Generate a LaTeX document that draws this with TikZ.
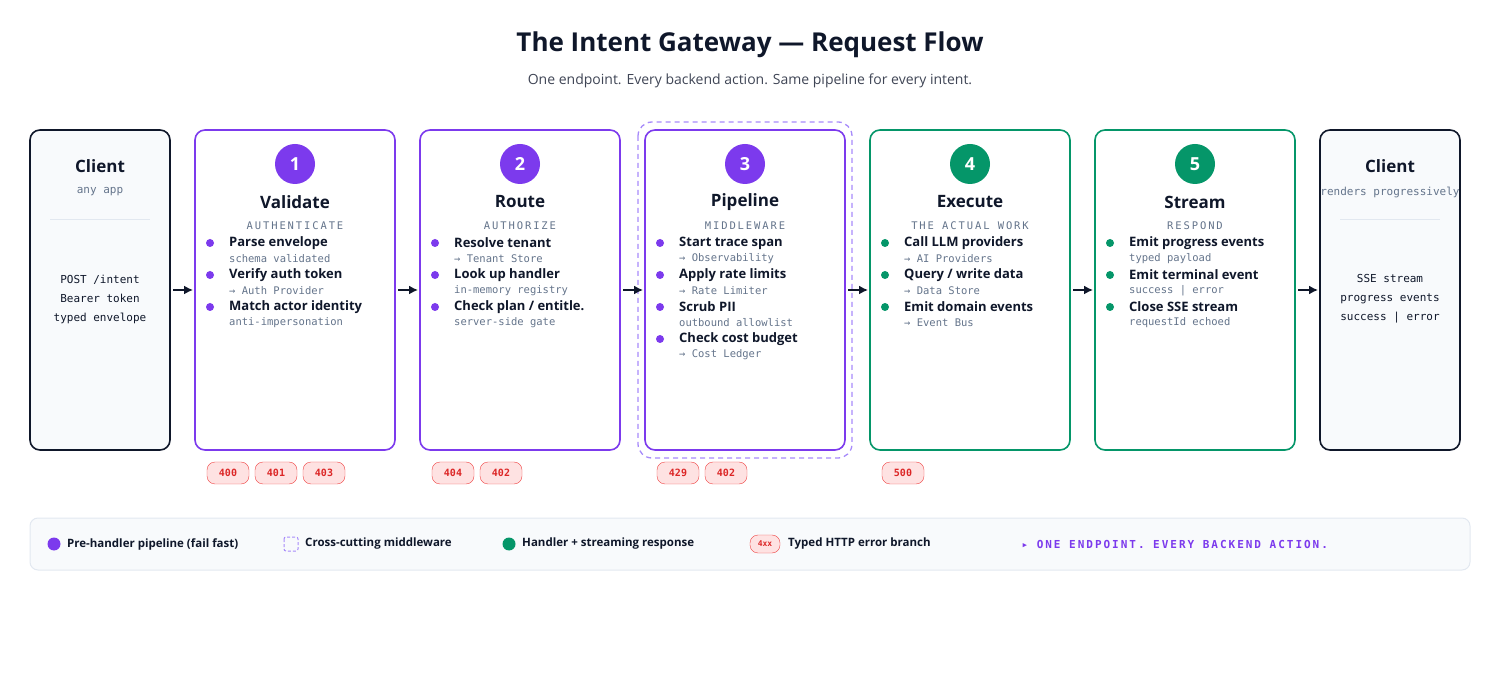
\documentclass[tikz,border=0pt]{standalone}
\usepackage{fontspec}
\setmainfont{Liberation Sans}
\newfontfamily\hd{Open Sans}
\newfontfamily\mn{DejaVu Sans Mono}
\newfontfamily\capmn[LetterSpace=18]{DejaVu Sans Mono}
\definecolor{pur}{HTML}{7C3AED}
\definecolor{grn}{HTML}{059669}
\definecolor{ink}{HTML}{0F172A}
\definecolor{gry}{HTML}{64748B}
\definecolor{cfill}{HTML}{F8FAFC}
\definecolor{rfill}{HTML}{FEE2E2}
\definecolor{rline}{HTML}{EF4444}
\definecolor{rtext}{HTML}{DC2626}
\definecolor{lav}{HTML}{A78BFA}
\definecolor{sep}{HTML}{E2E8F0}
\usetikzlibrary{arrows.meta}
\tikzset{
 stagebox/.style={draw=#1,line width=1.6pt,rounded corners=10pt,fill=white},
 clientbox/.style={draw=ink,line width=1.6pt,rounded corners=10pt,fill=cfill},
 num/.style={circle,fill=#1,minimum size=40pt,inner sep=0,text=white,font=\hd\bfseries\fontsize{18}{18}\selectfont},
 ttl/.style={text=ink,font=\hd\bfseries\fontsize{17}{17}\selectfont},
 capt/.style={text=gry,font=\capmn\fontsize{10.5}{11}\selectfont},
 itm/.style={anchor=west,text=ink,inner sep=0,font=\hd\bfseries\fontsize{13}{13}\selectfont},
 sub/.style={anchor=west,text=gry,inner sep=0,font=\mn\fontsize{10.5}{11}\selectfont},
 dot/.style={circle,fill=#1,minimum size=8pt,inner sep=0},
 flow/.style={-{Latex[length=9pt,width=9pt]},line width=1.6pt,draw=ink},
 badge/.style={draw=rline,fill=rfill,rounded corners=8pt,minimum width=42pt,minimum height=22pt,inner sep=0,text=rtext,font=\mn\bfseries\fontsize{10}{10}\selectfont},
 mono/.style={text=ink,font=\mn\fontsize{11}{19}\selectfont,align=center},
 legt/.style={anchor=west,text=ink,inner sep=0,font=\hd\bfseries\fontsize{11.5}{12}\selectfont},
}
\newcommand{\itmrow}[6]{% x y color name bold sub
 \node[dot=#3] at (#1+15,#2) {};
 \node[itm] (#4) at (#1+34,#2) {#5};
 \node[sub] (#4s) at (#1+34,#2+16) {#6};}
\begin{document}
\begin{tikzpicture}[x=1pt,y=-1pt]
\useasboundingbox (0,0) rectangle (1500,700);
\node[text=ink,font=\hd\bfseries\fontsize{26}{26}\selectfont] (title) at (750,45) {The Intent Gateway — Request Flow};
\node[text=ink!80,font=\hd\fontsize{14}{14}\selectfont] (subt) at (750,81) {One endpoint. Every backend action. Same pipeline for every intent.};
\draw[lav,line width=1.3pt,dash pattern=on 5pt off 4pt,rounded corners=14pt] (638,122) rectangle (852,458);
\draw[clientbox] (30,130) rectangle (170,450);
\draw[stagebox=pur] (195,130) rectangle (395,450);
\draw[stagebox=pur] (420,130) rectangle (620,450);
\draw[stagebox=pur] (645,130) rectangle (845,450);
\draw[stagebox=grn] (870,130) rectangle (1070,450);
\draw[stagebox=grn] (1095,130) rectangle (1295,450);
\draw[clientbox] (1320,130) rectangle (1460,450);
\coordinate (c1) at (170,290); \coordinate (b1l) at (195,290); \coordinate (b1r) at (395,290);
\coordinate (b2l) at (420,290); \coordinate (b2r) at (620,290);
\coordinate (b3l) at (645,290); \coordinate (b3r) at (845,290);
\coordinate (b4l) at (870,290); \coordinate (b4r) at (1070,290);
\coordinate (b5l) at (1095,290); \coordinate (b5r) at (1295,290);
\coordinate (c2) at (1320,290);
\draw[flow] ([xshift=3pt]c1) -- ([xshift=-2pt]b1l);
\draw[flow] ([xshift=3pt]b1r) -- ([xshift=-2pt]b2l);
\draw[flow] ([xshift=3pt]b2r) -- ([xshift=-2pt]b3l);
\draw[flow] ([xshift=3pt]b3r) -- ([xshift=-2pt]b4l);
\draw[flow] ([xshift=3pt]b4r) -- ([xshift=-2pt]b5l);
\draw[flow] ([xshift=3pt]b5r) -- ([xshift=-2pt]c2);
\node[ttl] (cl1) at (100,166) {Client};
\node[text=gry,font=\mn\fontsize{11}{11}\selectfont] (cl1s) at (100,192) {any app};
\draw[sep,line width=1pt] (50,220) -- (150,220);
\node[mono] (cl1b) at (100,299) {POST /intent\\Bearer token\\typed envelope};
\node[ttl] (cl2) at (1390,166) {Client};
\node[text=gry,font=\mn\fontsize{11}{11}\selectfont] (cl2s) at (1390,192) {renders progressively};
\draw[sep,line width=1pt] (1340,220) -- (1440,220);
\node[mono] (cl2b) at (1390,299) {SSE stream\\progress events\\success | error};
\node[num=pur] (n1) at (295,164) {1};
\node[ttl] (t1) at (295,202) {Validate};
\node[capt] (k1) at (295,226) {AUTHENTICATE};
\itmrow{195}{243}{pur}{a1}{Parse envelope}{schema validated}
\itmrow{195}{275}{pur}{a2}{Verify auth token}{→ Auth Provider}
\itmrow{195}{307}{pur}{a3}{Match actor identity}{anti-impersonation}
\node[num=pur] (n2) at (520,164) {2};
\node[ttl] (t2) at (520,202) {Route};
\node[capt] (k2) at (520,226) {AUTHORIZE};
\itmrow{420}{243}{pur}{b1}{Resolve tenant}{→ Tenant Store}
\itmrow{420}{275}{pur}{b2}{Look up handler}{in-memory registry}
\itmrow{420}{307}{pur}{b3}{Check plan / entitle.}{server-side gate}
\node[num=pur] (n3) at (745,164) {3};
\node[ttl] (t3) at (745,202) {Pipeline};
\node[capt] (k3) at (745,226) {MIDDLEWARE};
\itmrow{645}{243}{pur}{p1}{Start trace span}{→ Observability}
\itmrow{645}{275}{pur}{p2}{Apply rate limits}{→ Rate Limiter}
\itmrow{645}{307}{pur}{p3}{Scrub PII}{outbound allowlist}
\itmrow{645}{339}{pur}{p4}{Check cost budget}{→ Cost Ledger}
\node[num=grn] (n4) at (970,164) {4};
\node[ttl] (t4) at (970,202) {Execute};
\node[capt] (k4) at (970,226) {THE ACTUAL WORK};
\itmrow{870}{243}{grn}{e1}{Call LLM providers}{→ AI Providers}
\itmrow{870}{275}{grn}{e2}{Query / write data}{→ Data Store}
\itmrow{870}{307}{grn}{e3}{Emit domain events}{→ Event Bus}
\node[num=grn] (n5) at (1195,164) {5};
\node[ttl] (t5) at (1195,202) {Stream};
\node[capt] (k5) at (1195,226) {RESPOND};
\itmrow{1095}{243}{grn}{s1}{Emit progress events}{typed payload}
\itmrow{1095}{275}{grn}{s2}{Emit terminal event}{success | error}
\itmrow{1095}{307}{grn}{s3}{Close SSE stream}{requestId echoed}
\node[badge] (e400) at (228,473) {400};
\node[badge] (e401) at (276,473) {401};
\node[badge] (e403) at (324,473) {403};
\node[badge] (e404) at (453,473) {404};
\node[badge] (e402a) at (501,473) {402};
\node[badge] (e429) at (678,473) {429};
\node[badge] (e402b) at (726,473) {402};
\node[badge] (e500) at (903,473) {500};
\draw[draw=sep,fill=cfill,rounded corners=8pt,line width=1pt] (30,518) rectangle (1470,570);
\node[circle,fill=pur,minimum size=13pt,inner sep=0] (lg1) at (54,544) {};
\node[legt] (lg1t) at (67,544) {Pre-handler pipeline (fail fast)};
\draw[lav,line width=1pt,dash pattern=on 3pt off 2pt,rounded corners=2pt] (284,537) rectangle (298,551);
\node[legt] (lg2t) at (305,544) {Cross-cutting middleware};
\node[circle,fill=grn,minimum size=13pt,inner sep=0] (lg3) at (509,544) {};
\node[legt] (lg3t) at (522,544) {Handler + streaming response};
\node[badge,minimum width=30pt,minimum height=18pt,font=\mn\bfseries\fontsize{8}{8}\selectfont] (lg4) at (765,544) {4xx};
\node[legt] (lg4t) at (788,544) {Typed HTTP error branch};
\node[anchor=west,text=pur,font=\capmn\bfseries\fontsize{11}{11}\selectfont] (lg5) at (1018,544) {▸ ONE ENDPOINT. EVERY BACKEND ACTION.};
\end{tikzpicture}
\end{document}
